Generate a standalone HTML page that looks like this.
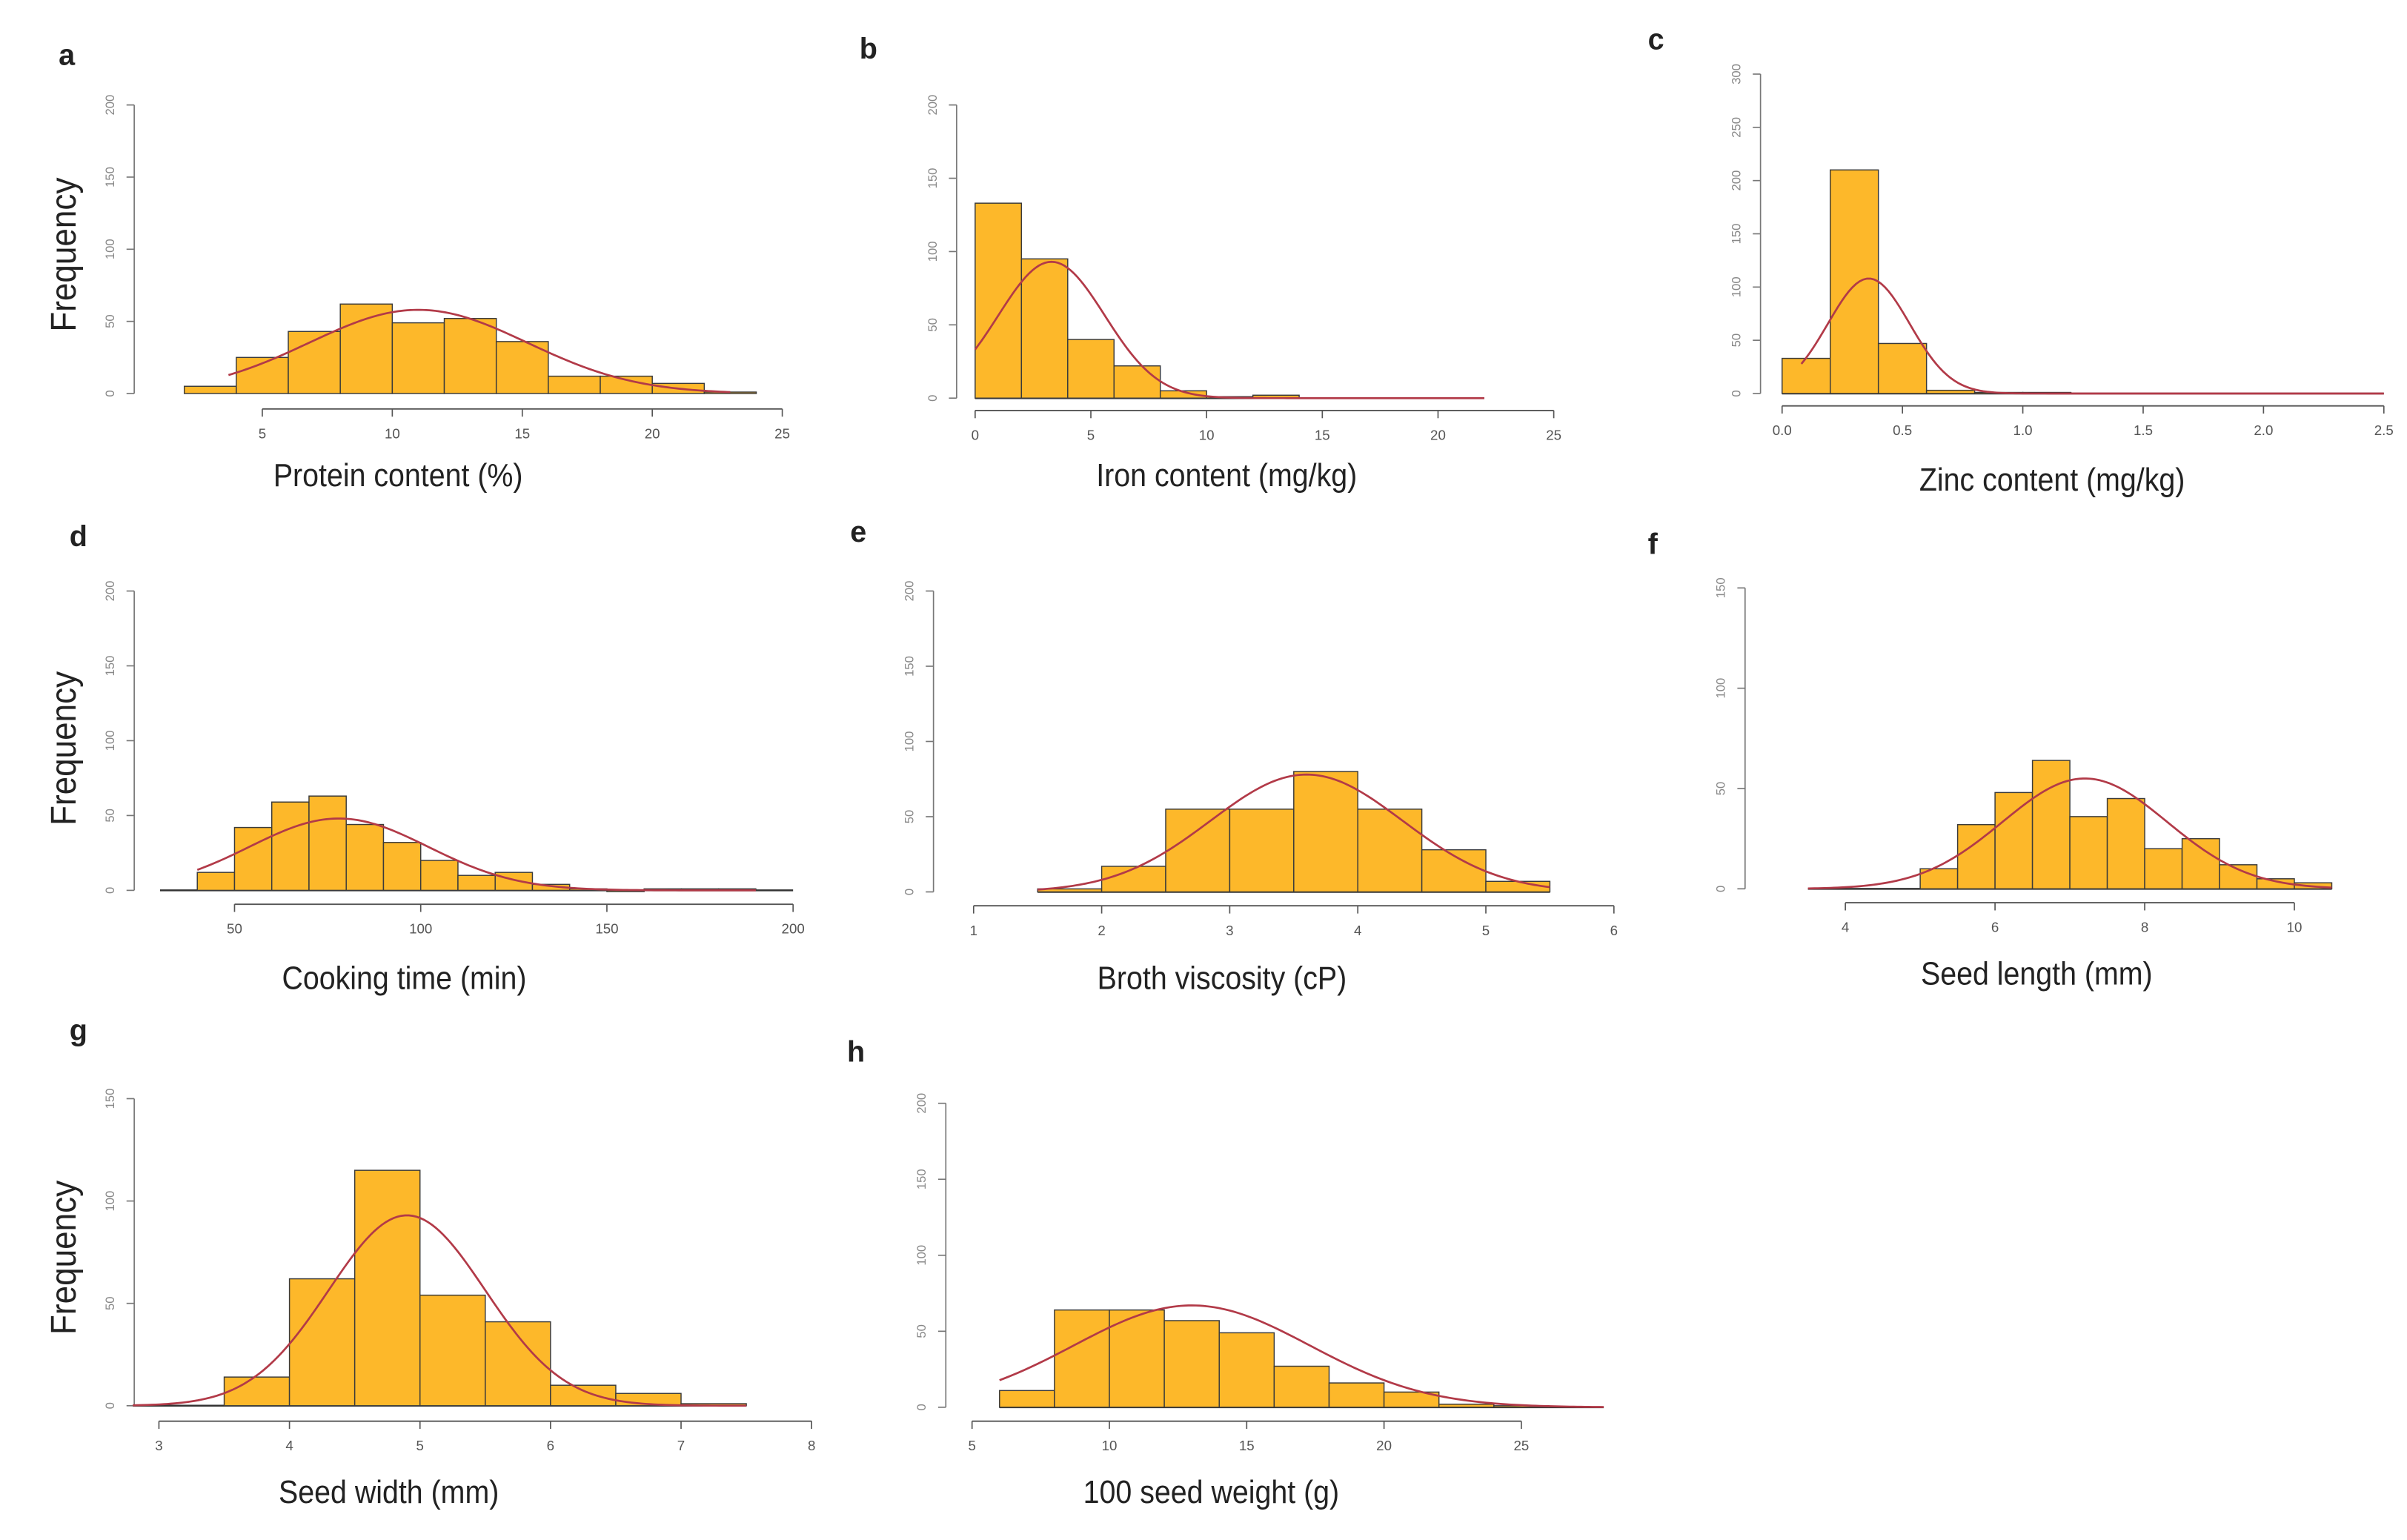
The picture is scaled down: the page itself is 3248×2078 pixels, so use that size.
<!DOCTYPE html>
<html><head><meta charset="utf-8"><style>
html,body{margin:0;padding:0;background:#fff;}
svg{display:block;}
text{font-family:"Liberation Sans",sans-serif;}
</style></head><body>
<svg id="fig" width="3248" height="2078" viewBox="0 0 1560 998" xmlns="http://www.w3.org/2000/svg"></svg>
<script>
// ---- Data (bin starts, bin width, counts, ticks, curve params) ----
const aBins = [2,4,6,8,10,12,14,16,18,20,22];
const aCounts = [5,25,43,62,49,52,36,12,12,7,1];
const aXTicks = [5,10,15,20,25];
const aYTicks = [0,50,100,150,200];
const bBins = [0,2,4,6,8,10,12];
const bCounts = [133,95,40,22,5,1,2];
const bXTicks = [0,5,10,15,20,25];
const bYTicks = [0,50,100,150,200];
const cBins = [0,0.2,0.4,0.6,0.8,1.0];
const cCounts = [33,210,47,3,1,1];
const cXTicks = [0,0.5,1.0,1.5,2.0,2.5];
const cXLabels = ["0.0","0.5","1.0","1.5","2.0","2.5"];
const cYTicks = [0,50,100,150,200,250,300];
const dBins = [40,50,60,70,80,90,100,110,120,130,140,150,160,170,180];
const dCounts = [12,42,59,63,44,32,20,10,12,4,1,0,1,1,1];
const dXTicks = [50,100,150,200];
const dYTicks = [0,50,100,150,200];
const eBins = [1.5,2,2.5,3,3.5,4,4.5,5];
const eCounts = [2,17,55,55,80,55,28,7];
const eXTicks = [1,2,3,4,5,6];
const eYTicks = [0,50,100,150,200];
const fBins = [5,5.5,6,6.5,7,7.5,8,8.5,9,9.5,10];
const fCounts = [10,32,48,64,36,45,20,25,12,5,3];
const fXTicks = [4,6,8,10];
const fYTicks = [0,50,100,150];
const gBins = [3.5,4,4.5,5,5.5,6,6.5,7];
const gCounts = [14,62,115,54,41,10,6,1];
const gXTicks = [3,4,5,6,7,8];
const gYTicks = [0,50,100,150];
const hBins = [6,8,10,12,14,16,18,20,22,24];
const hCounts = [11,64,64,57,49,27,16,10,2,1];
const hXTicks = [5,10,15,20,25];
const hYTicks = [0,50,100,150,200];
// normal curve params: mean, sd, peak, from, to
const aCurve = [11,4.2,58,3.7,23];
const bCurve = [3.3,2.3,93,0,22];
const cCurve = [0.36,0.17,108,0.08,2.5];
const dCurve = [78,24,48,40,190];
const eCurve = [3.6,0.75,78,1.5,5.5];
const fCurve = [7.2,1.1,55,3.5,10.5];
const gCurve = [4.9,0.6,93,2.8,7.5];
const hCurve = [13,4.3,67,6,28];

const NS="http://www.w3.org/2000/svg";
const svg=document.getElementById('fig');
function mk(tag,attrs,parent){const e=document.createElementNS(NS,tag);for(const k in attrs)e.setAttribute(k,attrs[k]);(parent||svg).appendChild(e);return e;}

const panels=[
 {id:'a',letter:[38,42],ax:87,y0:255,yTop:68,yMax:200,xaxY:265,x0v:5,x0p:170,x1v:25,x1p:507,bins:aBins,counts:aCounts,w:2,xt:aXTicks,yt:aYTicks,curve:aCurve,label:"Protein content (%)",lx:258,ly:315,freq:true,fy:165,base:null},
 {id:'b',letter:[557,38],ax:620,y0:258,yTop:68,yMax:200,xaxY:266,x0v:0,x0p:632,x1v:25,x1p:1007,bins:bBins,counts:bCounts,w:2,xt:bXTicks,yt:bYTicks,curve:bCurve,label:"Iron content (mg/kg)",lx:795,ly:315,freq:false,base:[0,22]},
 {id:'c',letter:[1068,32],ax:1141,y0:255,yTop:48,yMax:300,xaxY:263,x0v:0,x0p:1155,x1v:2.5,x1p:1545,bins:cBins,counts:cCounts,w:0.2,xt:cXTicks,xl:cXLabels,yt:cYTicks,curve:cCurve,label:"Zinc content (mg/kg)",lx:1330,ly:318,freq:false,base:[0,2.5]},
 {id:'d',letter:[45,354],ax:87,y0:577,yTop:383,yMax:200,xaxY:586,x0v:50,x0p:152,x1v:200,x1p:514,bins:dBins,counts:dCounts,w:10,xt:dXTicks,yt:dYTicks,curve:dCurve,label:"Cooking time (min)",lx:262,ly:641,freq:true,fy:485,base:[30,200]},
 {id:'e',letter:[551,351],ax:605,y0:578,yTop:383,yMax:200,xaxY:587,x0v:1,x0p:631,x1v:6,x1p:1046,bins:eBins,counts:eCounts,w:0.5,xt:eXTicks,yt:eYTicks,curve:eCurve,label:"Broth viscosity (cP)",lx:792,ly:641,freq:false,base:[1.5,5.5]},
 {id:'f',letter:[1068,359],ax:1131,y0:576,yTop:381,yMax:150,xaxY:585,x0v:4,x0p:1196,x1v:10,x1p:1487,bins:fBins,counts:fCounts,w:0.5,xt:fXTicks,yt:fYTicks,curve:fCurve,label:"Seed length (mm)",lx:1320,ly:638,freq:false,base:[3.5,10.5]},
 {id:'g',letter:[45,674],ax:87,y0:911,yTop:712,yMax:150,xaxY:921,x0v:3,x0p:103,x1v:8,x1p:526,bins:gBins,counts:gCounts,w:0.5,xt:gXTicks,yt:gYTicks,curve:gCurve,label:"Seed width (mm)",lx:252,ly:974,freq:true,fy:815,base:[2.8,7.5]},
 {id:'h',letter:[549,688],ax:613,y0:912,yTop:715,yMax:200,xaxY:921,x0v:5,x0p:630,x1v:25,x1p:986,bins:hBins,counts:hCounts,w:2,xt:hXTicks,yt:hYTicks,curve:hCurve,label:"100 seed weight (g)",lx:785,ly:974,freq:false,base:[6,28]}
];

panels.forEach(p=>{
  const g=mk('g',{});
  
  
  const X=v=>p.x0p+(v-p.x0v)*(p.x1p-p.x0p)/(p.x1v-p.x0v);
  const Y=v=>p.y0-(v/p.yMax)*(p.y0-p.yTop);
  const L=mk('text',{x:p.letter[0],y:p.letter[1],'font-size':19,'font-weight':'bold',fill:'#222'},g);
  L.textContent=p.id;
  
  
  // y axis
  const ya=mk('g',{},g);
  
  
  mk('line',{x1:p.ax,y1:Y(p.yt[0]),x2:p.ax,y2:Y(p.yt[p.yt.length-1]),stroke:'#777','stroke-width':0.8},ya);
  p.yt.forEach(t=>{
    mk('line',{x1:p.ax-5,y1:Y(t),x2:p.ax,y2:Y(t),stroke:'#777','stroke-width':0.8},ya);
    const tx=mk('text',{x:0,y:0,'font-size':8,fill:'#888','text-anchor':'middle',transform:`translate(${p.ax-13},${Y(t)}) rotate(-90)`},ya);
    tx.textContent=String(t);
    
    
  });
  // x axis
  const xa=mk('g',{},g);
  
  
  mk('line',{x1:X(p.xt[0]),y1:p.xaxY,x2:X(p.xt[p.xt.length-1]),y2:p.xaxY,stroke:'#555','stroke-width':0.9},xa);
  p.xt.forEach((t,i)=>{
    mk('line',{x1:X(t),y1:p.xaxY,x2:X(t),y2:p.xaxY+5,stroke:'#555','stroke-width':0.8},xa);
    const tx=mk('text',{x:X(t),y:p.xaxY+19,'font-size':9,fill:'#555','text-anchor':'middle'},xa);
    tx.textContent=p.xl?p.xl[i]:String(t);
    
    
  });
  // baseline
  if(p.base){mk('line',{x1:X(p.base[0]),y1:p.y0,x2:X(p.base[1]),y2:p.y0,stroke:'#333','stroke-width':1.2},g);}
  // bars
  p.bins.forEach((b,i)=>{
    const x1=X(b),x2=X(b+p.w),yy=Y(p.counts[i]);
    const r=mk('rect',{x:x1,y:yy,width:x2-x1,height:Math.max(p.y0-yy,0.8),fill:'#FDB82A',stroke:'#3a3a3a','stroke-width':0.7},g);
    
    
  });
  // curve
  const c=p.curve;let d='';
  for(let k=0;k<=160;k++){const v=c[3]+(c[4]-c[3])*k/160;const f=c[2]*Math.exp(-0.5*Math.pow((v-c[0])/c[1],2));d+=(k?'L':'M')+X(v).toFixed(2)+','+Y(f).toFixed(2);}
  const pa=mk('path',{d:d,fill:'none',stroke:'#B23A48','stroke-width':1.3},g);
  
  
  // labels
  const xl=mk('text',{x:p.lx,y:p.ly,'font-size':21,fill:'#222','text-anchor':'middle',transform:`translate(${p.lx*0.1},0) scale(0.9,1)`},g);
  xl.textContent=p.label;
  
  
  if(p.freq){
    const fy=p.fy||(p.y0+p.yTop)/2;
    const ft=mk('text',{x:0,y:0,'font-size':23,fill:'#222','text-anchor':'middle',transform:`translate(49,${fy}) rotate(-90) scale(0.92,1)`},g);
    ft.textContent='Frequency';
    
    
  }
});
</script>
</body></html>
